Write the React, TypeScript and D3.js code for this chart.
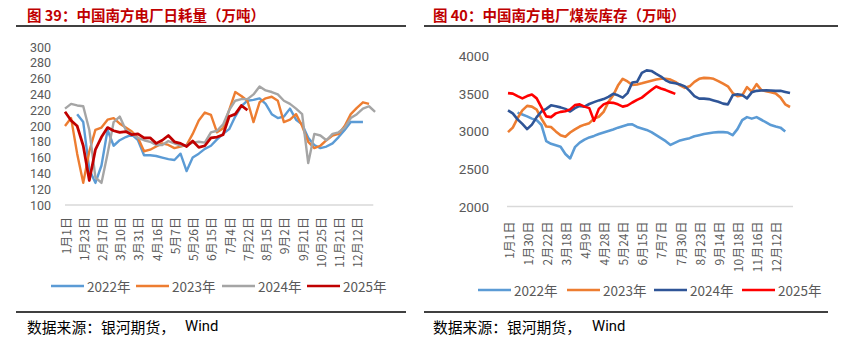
import React from 'react';
import * as d3 from 'd3';

// ---------- Left chart: 中国南方电厂日耗量 ----------
const leftTickLabels = ['1月1日', '1月23日', '2月17日', '3月10日', '3月31日', '4月16日', '5月7日', '5月26日', '6月15日', '7月4日', '7月22日', '8月15日', '9月2日', '9月21日', '10月25日', '11月21日', '12月12日'];
const leftYTicks = [100, 120, 140, 160, 180, 200, 220, 240, 260, 280, 300];

const left2022 = [null, null, 215, 205, 145, 128, 150, 195, 175, 182, 186, 189, 182, 163, 163, 162, 160, 158, 157, 165, 143, 160, 165, 171, 175, 183, 190, 196, 212, 225, 232, 233, 235, 228, 215, 210, 212, 222, 208, 202, 185, 176, 172, 174, 178, 186, 195, 205, 205, 205, null, null];
const left2023 = [200, 210, 165, 128, 168, 195, 198, 208, 210, 203, 198, 193, 185, 168, 170, 174, 178, 176, 172, 174, 176, 190, 207, 217, 214, 192, 197, 220, 243, 238, 232, 205, 230, 235, 237, 232, 205, 208, 215, 200, 180, 172, 175, 182, 188, 190, 200, 215, 223, 230, 228, null];
const left2024 = [222, 228, 226, 225, 195, 135, 128, 165, 205, 212, 195, 190, 185, 182, 180, 176, 176, 181, 178, 175, 176, 179, 180, 179, 192, 194, 202, 220, 232, 234, 234, 240, 250, 245, 243, 240, 232, 228, 222, 215, 153, 190, 188, 182, 190, 192, 198, 210, 215, 222, 225, 218];
const left2025 = [218, 207, 200, 175, 131, 170, 186, 198, 194, 192, 193, 189, 190, 185, 185, 178, 182, 188, 180, 178, 174, 181, 173, 175, 185, 186, 189, 212, 215, 226, 220, null, null, null, null, null, null, null, null, null, null, null, null, null, null, null, null, null, null, null, null, null];

// ---------- Right chart: 中国南方电厂煤炭库存 ----------
const rightTickLabels = ['1月1日', '1月30日', '2月22日', '3月18日', '4月9日', '4月28日', '5月24日', '6月15日', '7月7日', '7月30日', '8月23日', '9月14日', '10月18日', '11月16日', '12月12日'];
const rightYTicks = [2000, 2500, 3000, 3500, 4000];

const right2022 = [null, null, 3250, 3225, 3200, 3170, 3150, 3085, 2870, 2835, 2815, 2795, 2700, 2640, 2790, 2850, 2890, 2920, 2940, 2965, 2985, 3005, 3025, 3050, 3070, 3090, 3095, 3060, 3040, 3020, 2990, 2950, 2910, 2870, 2820, 2850, 2880, 2895, 2910, 2935, 2950, 2965, 2975, 2985, 2990, 2990, 2985, 2950, 3030, 3150, 3190, 3170, 3190, 3155, 3120, 3085, 3065, 3050, 3000, null];
const right2023 = [2990, 3050, 3175, 3280, 3340, 3330, 3290, 3170, 3065, 3058, 3000, 2950, 2930, 2985, 3027, 3065, 3090, 3110, 3170, 3195, 3260, 3390, 3480, 3610, 3700, 3665, 3620, 3625, 3640, 3658, 3675, 3690, 3702, 3702, 3690, 3660, 3613, 3580, 3600, 3660, 3700, 3713, 3710, 3700, 3670, 3635, 3600, 3510, 3470, 3480, 3590, 3530, 3630, 3550, 3535, 3520, 3505, 3450, 3360, 3325];
const right2024 = [3280, 3240, 3160, 3100, 3030, 3090, 3190, 3265, 3300, 3347, 3335, 3320, 3300, 3265, 3310, 3340, 3330, 3365, 3390, 3413, 3430, 3460, 3500, 3480, 3450, 3510, 3650, 3660, 3780, 3813, 3805, 3765, 3730, 3680, 3650, 3640, 3625, 3600, 3540, 3470, 3436, 3436, 3430, 3413, 3395, 3370, 3360, 3480, 3495, 3485, 3440, 3520, 3540, 3545, 3547, 3545, 3540, 3540, 3525, 3510];
const right2025 = [3510, 3503, 3470, 3440, 3470, 3490, 3440, 3320, 3200, 3190, 3240, 3260, 3268, 3293, 3350, 3360, 3330, 3310, 3140, 3300, 3360, 3385, 3380, 3360, 3330, 3345, 3385, 3420, 3450, 3500, 3550, 3598, 3572, 3550, 3525, 3500, null, null, null, null, null, null, null, null, null, null, null, null, null, null, null, null, null, null, null, null, null, null, null, null];

const seriesNames = ['2022年', '2023年', '2024年', '2025年'];
const leftColors = ['#5b9bd5', '#ed7d31', '#a5a5a5', '#c00000'];
const rightColors = ['#5b9bd5', '#ed7d31', '#2f5597', '#ff0000'];

const FONT = '"Noto Sans CJK SC", "Microsoft YaHei", sans-serif';
const NUMFONT = 'Roboto, "Liberation Sans", sans-serif';
const TICK = '#595959';

type V = number | null;

function linePath(data: V[], x: d3.ScaleLinear<number, number>, y: d3.ScaleLinear<number, number>) {
  const gen = d3.line<V>()
    .defined((d) => d != null)
    .x((_, i) => x(i))
    .y((d) => y(d as number));
  return gen(data) || '';
}

export default function App() {
  const xL = d3.scaleLinear().domain([0, 51]).range([65, 375.1]);
  const yL = d3.scaleLinear().domain([100, 300]).range([205, 47]);
  const xR = d3.scaleLinear().domain([0, 60]).range([508, 794.8]);
  const yR = d3.scaleLinear().domain([2000, 4000]).range([206.5, 56.3]);

  const leftSeries = [left2022, left2023, left2024, left2025];
  const rightSeries = [right2022, right2023, right2024, right2025];

  const leftLegendX = [51, 136, 222, 307];
  const rightLegendX = [478, 567, 654, 742];

  return (
    <svg width={852} height={337} style={{ position: 'absolute', left: 0, top: 0, background: '#fff' }} fontFamily={FONT}>
      <rect x={0} y={0} width={852} height={337} fill="#fff" />

      {/* Titles */}
      <text x={27} y={14} fontSize={14.5} fontWeight="bold" fill="#c00000" dominantBaseline="central">图 39：中国南方电厂日耗量（万吨）</text>
      <line x1={16} x2={406} y1={26} y2={26} stroke="#000" strokeWidth={1.3} />
      <text x={433} y={14} fontSize={14.5} fontWeight="bold" fill="#c00000" dominantBaseline="central">图 40：中国南方电厂煤炭库存（万吨）</text>
      <line x1={424} x2={838} y1={26} y2={26} stroke="#000" strokeWidth={1.3} />

      {/* Left chart */}
      <line x1={xL(0)} x2={xL(50.7)} y1={yL(100)} y2={yL(100)} stroke="#d9d9d9" strokeWidth={1.3} />
      {leftYTicks.map((t) => (
        <text key={t} x={51} y={yL(t)} fontSize={12.5} fontFamily={NUMFONT} fill={TICK} textAnchor="end" dominantBaseline="central">{t}</text>
      ))}
      {leftTickLabels.map((l, k) => (
        <text key={l} transform={`translate(${xL(k * 3)},217) rotate(-90)`} fontSize={12} fill={TICK} textAnchor="end" dominantBaseline="central">{l}</text>
      ))}
      {leftSeries.map((s, k) => (
        <path key={k} d={linePath(s, xL, yL)} fill="none" stroke={leftColors[k]} strokeWidth={k === 3 ? 2.75 : 2.4} strokeLinejoin="round" />
      ))}
      {seriesNames.map((n, k) => (
        <g key={n}>
          <line x1={leftLegendX[k]} x2={leftLegendX[k] + 33} y1={286} y2={286} stroke={leftColors[k]} strokeWidth={2.5} />
          <text x={leftLegendX[k] + 36} y={286} fontSize={13.5} fill={TICK} dominantBaseline="central">{n}</text>
        </g>
      ))}
      <line x1={16} x2={406} y1={312} y2={312} stroke="#000" strokeWidth={1.3} />
      <text x={27} y={326} fontSize={14.8} fill="#000" dominantBaseline="central">数据来源：银河期货，</text>
      <text x={185} y={326} fontSize={14.8} fontFamily={NUMFONT} fill="#000" dominantBaseline="central">Wind</text>

      {/* Right chart */}
      <line x1={507} x2={793} y1={yR(2000)} y2={yR(2000)} stroke="#d9d9d9" strokeWidth={1.3} />
      {rightYTicks.map((t) => (
        <text key={t} x={489} y={yR(t)} fontSize={13.5} fontFamily={NUMFONT} fill={TICK} textAnchor="end" dominantBaseline="central">{t}</text>
      ))}
      {rightTickLabels.map((l, k) => (
        <text key={l} transform={`translate(${xR(k * 4)},221.5) rotate(-90)`} fontSize={12} fill={TICK} textAnchor="end" dominantBaseline="central">{l}</text>
      ))}
      {rightSeries.map((s, k) => (
        <path key={k} d={linePath(s, xR, yR)} fill="none" stroke={rightColors[k]} strokeWidth={2.6} strokeLinejoin="round" />
      ))}
      {seriesNames.map((n, k) => (
        <g key={n}>
          <line x1={rightLegendX[k]} x2={rightLegendX[k] + 33} y1={290} y2={290} stroke={rightColors[k]} strokeWidth={2.5} />
          <text x={rightLegendX[k] + 36} y={290} fontSize={13.5} fill={TICK} dominantBaseline="central">{n}</text>
        </g>
      ))}
      <line x1={424} x2={828} y1={312} y2={312} stroke="#000" strokeWidth={1.3} />
      <text x={433} y={326} fontSize={14.8} fill="#000" dominantBaseline="central">数据来源：银河期货，</text>
      <text x={592} y={326} fontSize={14.8} fontFamily={NUMFONT} fill="#000" dominantBaseline="central">Wind</text>
    </svg>
  );
}
